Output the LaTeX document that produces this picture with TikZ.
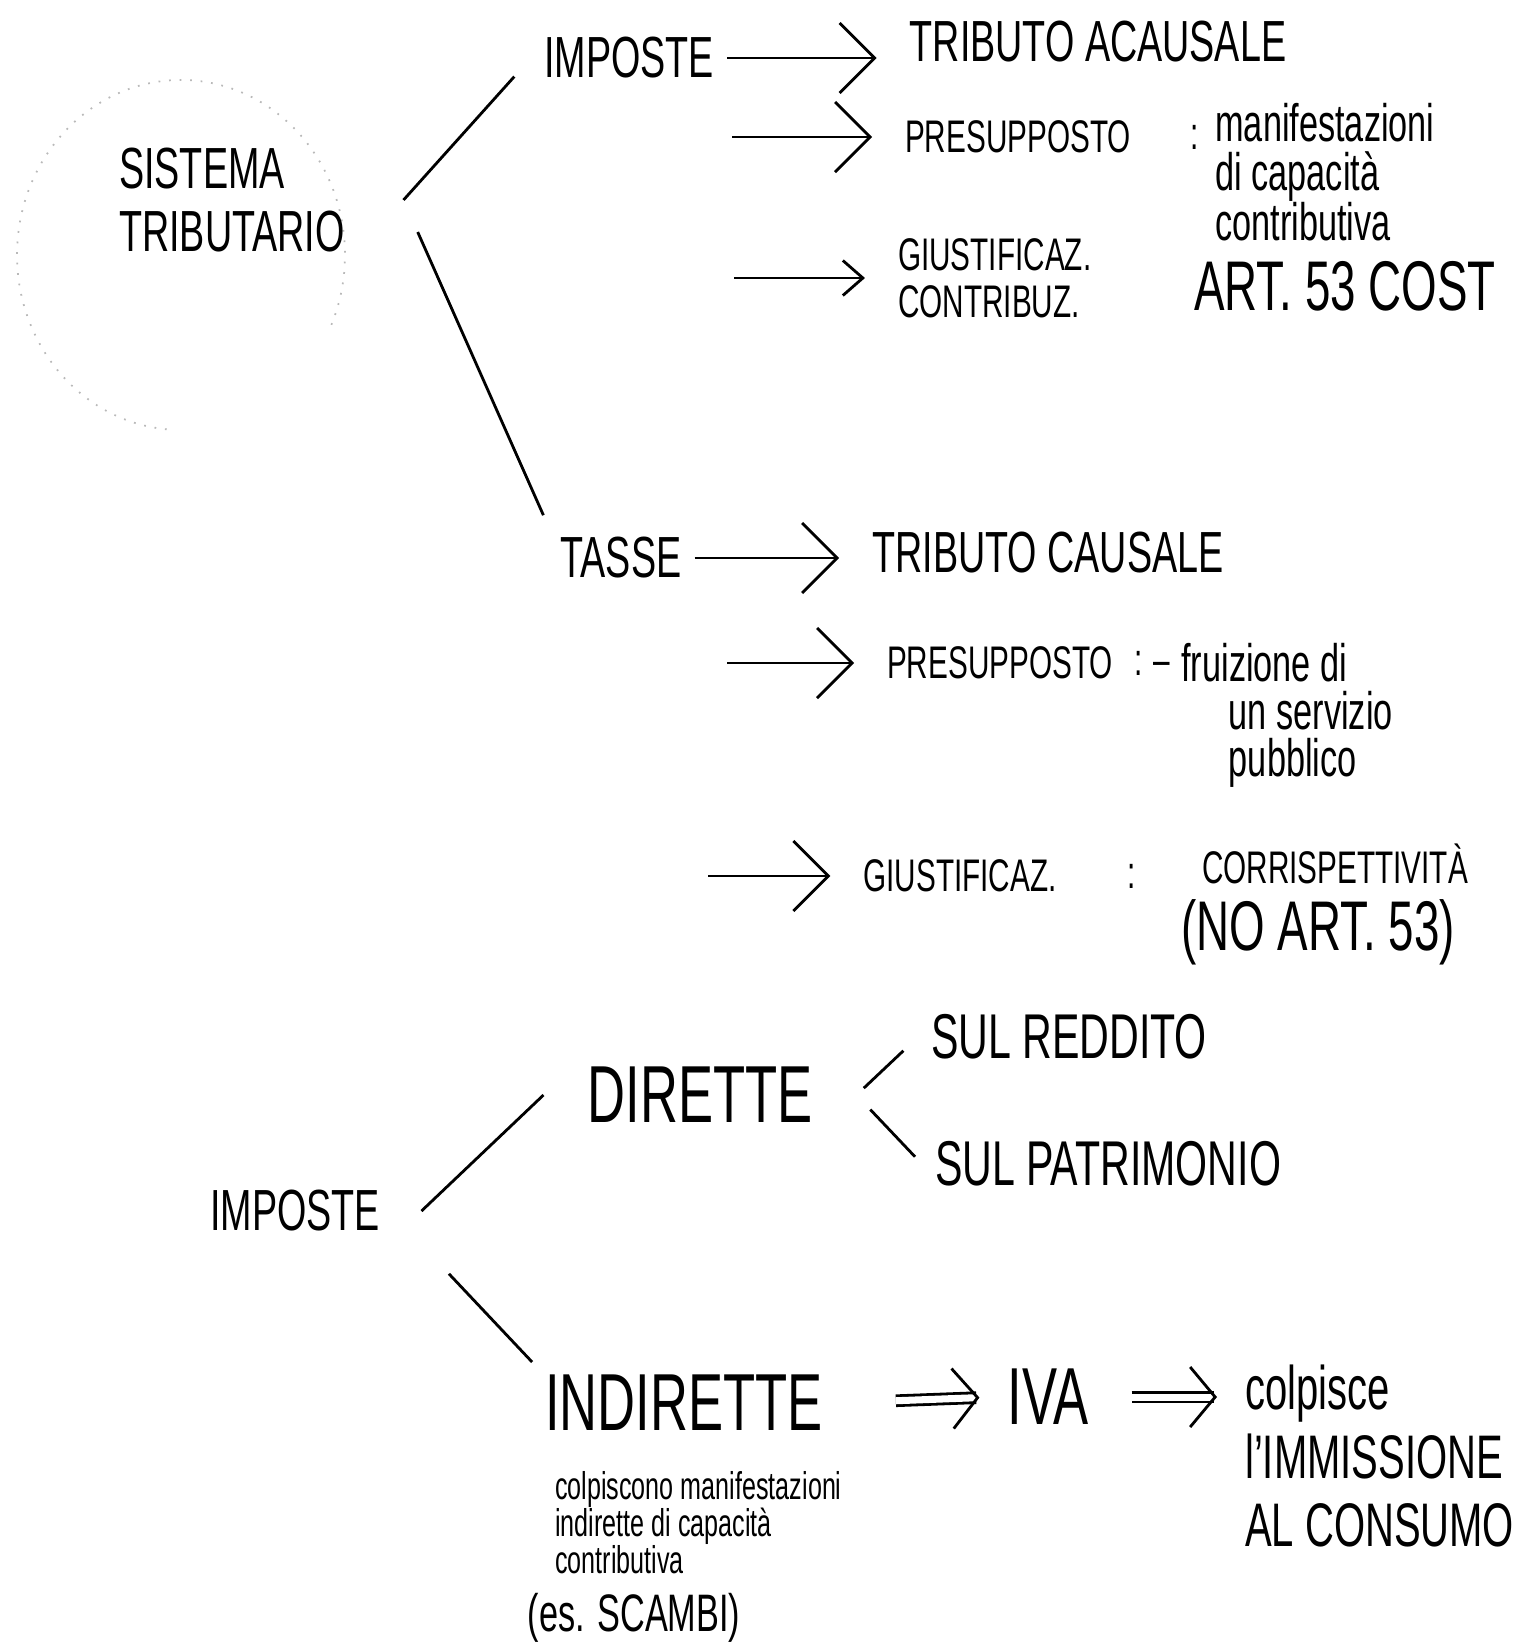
\documentclass[tikz,border=0pt]{standalone}
\usepackage{fontspec}
\setmainfont{Liberation Sans}[FakeStretch=0.65]
\usetikzlibrary{arrows.meta}
\begin{document}
\begin{tikzpicture}[x=0.01cm,y=-0.01cm,line width=0.8pt,
  bigword/.style={font=\fontsize{23}{25}\selectfont},
  wideword/.style={font=\fontsize{20}{22}\selectfont},
  word/.style={font=\fontsize{16.5}{18}\selectfont,align=center},
  sulword/.style={font=\fontsize{18}{20}\selectfont},
  smallword/.style={font=\fontsize{13}{13.5}\selectfont,align=left},
  script/.style={font=\fontsize{15}{14}\selectfont,align=left,inner sep=0pt,anchor=north west},
  note/.style={font=\fontsize{11}{10.5}\selectfont,align=left},
  pointer/.style={-{Straight Barb[length=3.5mm,width=7mm]},shorten >=2mm},
  implies/.style={double,double distance=2pt,-{Straight Barb[length=2.5mm,width=6mm]}},
  halo/.style={gray!55,line width=0.5pt,dash pattern=on 0.5pt off 2.5pt}]
\useasboundingbox (0,0) rectangle (1531,1651);

% sistema tributario
\draw[halo] (166.7,429.3) arc[start angle=95,end angle=385,x radius=164,y radius=175];
\node[word,align=left,minimum width=3.4cm] (sistema) at (232,200) {SISTEMA\\TRIBUTARIO};

% imposte
\node[word] (impA) at (629,58) {IMPOSTE};
\node[word] (tribA) at (1098,42) {TRIBUTO ACAUSALE};
\node[smallword] (presA) at (1018,137) {PRESUPPOSTO};
\node[smallword] (colonA) at (1195,137) {:};
\node[script] (manif) at (1214,102) {manifestazioni\\di capacità\\contributiva};
\node[smallword,anchor=west] (giustA) at (885,278) {GIUSTIFICAZ.\\CONTRIBUZ.};
\node[wideword] (artA) at (1345,286) {ART. 53 COST};
\coordinate (fromA2) at (732,137);
\coordinate (fromA3) at (734,278);
\draw[pointer] (impA.east) -- (impA.east -| tribA.west);
\draw[pointer] (fromA2) -- (presA.west);
\draw[pointer,-{Straight Barb[length=2mm,width=3.5mm]}] (fromA3) -- (giustA.west);

% tasse
\node[word] (tasse) at (621,558) {TASSE};
\node[word] (tribB) at (1048,553) {TRIBUTO CAUSALE};
\node[smallword] (presB) at (1000,663) {PRESUPPOSTO};
\node[smallword] (colonB) at (1152,663) {: –};
\node[script,font=\fontsize{15}{13.5}\selectfont] (fruiz) at (1180,642) {fruizione di\\\hspace*{0.9em}un servizio\\\hspace*{0.9em}pubblico};
\node[smallword] (giustB) at (960,876) {GIUSTIFICAZ.};
\node[smallword] (colonC) at (1132,876) {:};
\node[smallword,inner sep=1pt] (corr) at (1335,864) {CORRISPETTIVITÀ};
\node[wideword,inner sep=1pt] (noart) at (1318,932) {(NO ART. 53)};
\coordinate (fromB2) at (727,663);
\coordinate (fromB3) at (708,876);
\draw[pointer] (tasse.east) -- (tasse.east -| tribB.west);
\draw[pointer] (fromB2) -- (presB.west);
\draw[pointer] (fromB3) -- (giustB.west);

\draw[shorten >=0.25cm] (sistema.east) -- (impA.west);
\draw[shorten <=0.35cm,shorten >=0.1cm] (sistema.east) -- (tasse.north west);

% dirette / indirette
\node[word,minimum width=2.5cm] (impB) at (295,1211) {IMPOSTE};
\node[bigword,minimum width=3.1cm] (dirette) at (700,1095) {DIRETTE};
\node[sulword] (reddito) at (1069,1037) {SUL REDDITO};
\node[sulword] (patrim) at (1108,1164) {SUL PATRIMONIO};
\node[bigword] (indir) at (684,1403) {INDIRETTE};
\node[bigword] (iva) at (1048,1397) {IVA};
\node[font=\fontsize{17.5}{19.5}\selectfont,align=left,anchor=north west] (colp) at (1232,1352) {colpisce\\l'IMMISSIONE\\AL CONSUMO};
\node[note,anchor=north west] (noteI) at (542,1458) {colpiscono manifestazioni\\indirette di capacità\\contributiva};
\node[font=\fontsize{15}{16}\selectfont] (esempio) at (634,1618) {(es. SCAMBI)};

\draw (impB.east) -- (dirette.west);
\draw[shorten <=0.4cm] (impB.south east) -- (indir.north west);
\draw[shorten <=0.1cm,shorten >=0.2cm] (dirette.east) -- (reddito.west);
\draw[shorten <=0.2cm,shorten >=0.1cm] (dirette.east) -- (patrim.west);
\draw[implies,shorten <=0.6cm,shorten >=0.15cm] (indir.east) -- (iva.west);
\draw[implies,shorten <=0.3cm,shorten >=0.15cm] (iva.east) -- (iva.east -| colp.west);
\end{tikzpicture}
\end{document}
